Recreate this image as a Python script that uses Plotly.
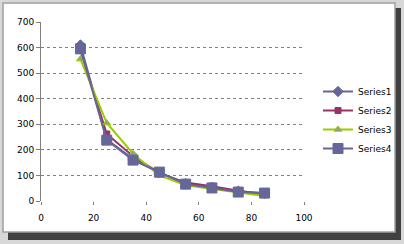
import plotly.graph_objects as go

x_vals = [15, 25, 35, 45, 55, 65, 75, 85]
series1 = [610, 240, 165, 110, 68, 52, 38, 30]
series2 = [590, 262, 175, 110, 72, 58, 40, 25]
series3 = [555, 305, 185, 100, 62, 48, 35, 20]
series4 = [595, 238, 160, 113, 66, 51, 35, 31]
names = ["Series1", "Series2", "Series3", "Series4"]

W, H = 404, 244
L, R, T, B = 41, 304, 22, 201

def px(x):
    return (x - L) / (R - L)

def py(y):
    return (B - y) / (B - T)

fig = go.Figure()
styles = [
    dict(color="#666699", symbol="diamond", size=8, mfill="#666699", mline="#666699"),
    dict(color="#993366", symbol="square", size=6, mfill="#993366", mline="#993366"),
    dict(color="#99CC00", symbol="triangle-up", size=7, mfill="#999999", mline="#99CC00"),
    dict(color="#666699", symbol="square", size=10, mfill="#666699", mline="#666699"),
]
for name, vals, st in zip(names, [series1, series2, series3, series4], styles):
    fig.add_trace(go.Scatter(
        x=x_vals, y=vals, name=name, mode="lines+markers",
        line=dict(color=st["color"], width=2),
        marker=dict(symbol=st["symbol"], size=st["size"], color=st["mfill"],
                    line=dict(color=st["mline"], width=1)),
    ))

shapes = [
    dict(type="rect", xref="paper", yref="paper", x0=px(0), x1=px(404), y0=py(244), y1=py(0),
         fillcolor="#d8d8d8", line=dict(width=0), layer="below"),
    dict(type="rect", xref="paper", yref="paper", x0=px(8), x1=px(401), y0=py(240), y1=py(8),
         fillcolor="#404040", line=dict(width=0), layer="below"),
    dict(type="rect", xref="paper", yref="paper", x0=px(3), x1=px(395), y0=py(232), y1=py(3),
         fillcolor="white", line=dict(color="#a0a0a0", width=1.5), layer="below"),
]

font = dict(family="DejaVu Sans", size=9, color="black")
fig.update_layout(
    width=W, height=H,
    margin=dict(l=L, r=W - R, t=T, b=H - B, pad=0, autoexpand=False),
    paper_bgcolor="white", plot_bgcolor="rgba(0,0,0,0)",
    font=font,
    shapes=shapes,
    showlegend=True,
    legend=dict(x=px(318), y=py(77), xanchor="left", yanchor="top",
                bgcolor="rgba(0,0,0,0)", font=dict(family="DejaVu Sans", size=9),
                tracegroupgap=0, itemwidth=30),
    xaxis=dict(range=[0, 100], dtick=20, showgrid=False, zeroline=False,
               showline=False, ticks="outside", ticklen=3, tickcolor="#808080",
               ticklabelstandoff=5),
    yaxis=dict(range=[0, 700], dtick=100, showgrid=True, gridcolor="#808080",
               griddash="dot", gridwidth=1, zeroline=False, showline=True,
               linecolor="#808080", linewidth=1, ticks="outside", ticklen=4,
               tickcolor="#808080"),
)
fig.write_html("out.html")
